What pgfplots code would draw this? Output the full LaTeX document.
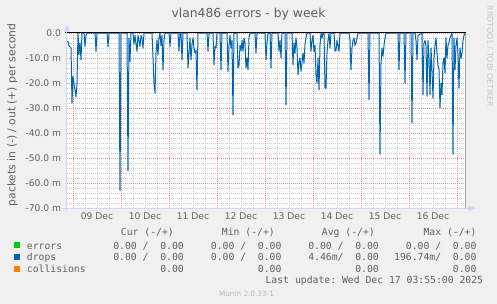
\documentclass[border=0pt]{standalone}
\usepackage{pgfplots}
\pgfplotsset{compat=1.18}
\usepackage{fontspec}
\setmainfont{DejaVu Sans}
\setmonofont{DejaVu Sans Mono}
\definecolor{bg}{HTML}{F0F0F0}
\definecolor{fontc}{HTML}{606060}
\definecolor{axisc}{HTML}{CFD6F8}
\definecolor{mgrid}{RGB}{238,150,150}
\definecolor{ngrid}{RGB}{205,205,205}
\definecolor{errc}{HTML}{00CC00}
\definecolor{dropc}{HTML}{0066B3}
\definecolor{collc}{HTML}{FF8000}
\newcommand\lgf{\ttfamily\fontsize{9.8}{11}\selectfont\color{fontc}}
\begin{document}
\begin{tikzpicture}
\path[use as bounding box, fill=bg] (0,0) rectangle (497bp,304bp);
\begin{axis}[
  at={(66.7bp,96bp)}, anchor=south west,
  scale only axis, width=399bp, height=175bp,
  xmin=-3.15, xmax=196.35, ymin=-70, ymax=0,
  axis background/.style={fill=white},
  axis line style={draw=none},
  tick style={draw=none},
  xtick={12,36,...,180},
  xticklabels={09 Dec,10 Dec,11 Dec,12 Dec,13 Dec,14 Dec,15 Dec,16 Dec},
  minor xtick={6,18,...,186},
  extra x ticks={0,24,...,192},
  extra x tick labels={},
  extra x tick style={grid=major, major x grid style={mgrid, dash pattern=on 1bp off 1bp, line width=0.8bp}},
  ytick={-70,-60,...,0},
  yticklabels={-70.0 m,-60.0 m,-50.0 m,-40.0 m,-30.0 m,-20.0 m,-10.0 m,0.0},
  minor ytick={-68,-66,-64,-62,-58,-56,-54,-52,-48,-46,-44,-42,-38,-36,-34,-32,-28,-26,-24,-22,-18,-16,-14,-12,-8,-6,-4,-2},
  grid=both,
  major x grid style={ngrid, dash pattern=on 1bp off 1bp, line width=0.8bp},
  minor x grid style={ngrid, dash pattern=on 1bp off 1bp, line width=0.8bp},
  major y grid style={mgrid, dash pattern=on 1bp off 1bp, line width=0.8bp},
  minor y grid style={ngrid, dash pattern=on 1bp off 1bp, line width=0.8bp},
  xticklabel style={font=\fontsize{9.2}{10}\selectfont, text=fontc, inner sep=0pt, anchor=north, yshift=-4.5bp},
  yticklabel style={font=\fontsize{9.2}{10}\selectfont, text=fontc, inner sep=0pt, anchor=east, xshift=-5.5bp},
]
\addplot[color=dropc, line width=1bp, line join=round] coordinates {
(-3,-3.3) (-2.5,-3.5) (-2,-5) (-1.5,-5.5) (-1,-6) (-0.5,-28) (0,-17.5) (0.5,-20) (1,-23) (1.5,-25.5) (2,-20) (2.5,0) (3,-8.5) (3.5,-4) (4,-10.7) (4.5,0) (5.5,0) (6,-5.3) (6.5,-1) (7,0) (11,0) (11.5,-7.3) (12,0) (17,0) (17.5,-5.5) (18,0) (23,0) (23.5,-63) (24,0) (27,0) (27.5,-55) (28,-2) (28.5,-11.3) (29,0) (30,0) (30.5,-4.5) (31,-1) (32,-7.3) (32.5,-1) (33,-3) (33.5,-5.3) (34,-1) (34.5,-2) (35,-6) (35.5,0)
(39.5,0) (40,-10) (40.5,-20) (41,-24) (41.5,-8) (42,-3) (42.5,-8.7) (43,-2) (43.5,0) (44,-5) (44.5,-1) (45,-14.7) (45.5,-3) (46,0) (48,0) (48.5,-5.3) (49,0) (52.5,0) (53,-7.3) (53.5,0) (54,0) (54.5,-10.7) (55,0) (57,0) (57.5,-14) (58,-8) (58.5,-2) (59,-10.7) (59.5,-4.7) (60,-2) (60.5,-6) (61,-8) (61.5,-7) (62,-22.7) (62.5,0) (67,0) (67.5,-7.3) (68,0) (70,0) (70.5,-12.7) (71,-5.3) (71.5,-6) (72,0) (73.5,0) (74,-14.7) (74.5,0) (77,0) (77.5,-15.3) (78,-5) (78.5,-1) (79,-6) (79.5,-3) (80,-32.7) (80.5,0)
(82,0) (82.5,-14) (83,-13) (83.5,-5) (84,-7) (84.5,-3) (85,-7.3) (85.5,-2) (86,-4) (86.5,-14) (87,-10) (87.5,-14.7) (88,-2) (88.5,0) (91,0) (91.5,-8) (92,0) (96,0) (96.5,-10.7) (97,-4) (97.5,0) (98.5,0) (99,-14) (99.5,0) (102.5,0) (103,-7.3) (103.5,-3) (104,-10) (104.5,0) (106,0) (106.5,-28.7) (107,0) (109.5,0) (110,-12.7) (110.5,-4) (111,-8) (111.5,-2) (112,-6) (112.5,-16.7) (113,-12) (113.5,-10) (114,-15.3) (114.5,-12) (115,-8) (115.5,-12) (116,-4.7) (116.5,-2) (117,0) (118.5,0) (119,-7.3) (119.5,-3)
(120,-1) (120.5,-7.3) (121,-5) (121.5,-16.7) (122,-20) (122.5,-10) (123,-22.7) (123.5,-5) (124,0) (124.5,-2) (125,0) (125.5,0) (126,-22) (126.5,-22) (127,-8) (127.5,-3) (128,0) (128.5,-6) (129,0) (130.5,0) (131,-7.3) (131.5,-7) (132,-3) (132.5,-5) (133,-7.3) (133.5,0) (138,0) (138.5,-3) (139,-14.7) (139.5,-6) (140,-3) (140.5,-2) (141,-5) (141.5,-4) (142,-2) (142.5,0) (147.5,0) (148,-26.7) (148.5,0) (153,0) (153.5,-48.5) (154,-12) (154.5,-6) (155,-9.3) (155.5,-5) (156,-2) (156.5,0)
(162.5,0) (163,-14.7) (163.5,0) (165.5,0) (166,-20) (166.5,0) (169,0) (169.5,-36) (170,0) (171,0) (171.5,-3) (172,-10.7) (172.5,-1) (174.5,0) (175,-24.7) (175.5,-4) (176,-3) (176.5,-5) (177,-25.3) (177.5,-3) (178,-10) (178.5,-24.7) (179,-6) (179.5,-15) (180,-26) (180.5,-10) (181,-5) (181.5,-2) (182,-8) (182.5,-13) (183,-14.7) (183.5,-30) (184,-20) (184.5,-24.7) (185,-12) (185.5,-10) (186,-16) (186.5,-2) (187,-10) (187.5,-5) (188,-4) (188.5,-2) (189,-1) (189.5,0) (190,-48.5) (190.5,-2) (191,-14.7) (191.5,-5) (192,-2) (192.5,-8) (193,-22) (193.5,-6) (194,-10) (194.5,-8) (195,-3) (195.5,-1) (196,0)
};
\end{axis}
% axes
\draw[black, line width=1bp] (65bp,271bp) -- (465.5bp,271bp);
\draw[axisc, line width=1bp] (66.7bp,93bp) -- (66.7bp,273bp);
\fill[axisc] (66.9bp,279.5bp) -- (64bp,272.3bp) -- (69.8bp,272.3bp) -- cycle;
\draw[axisc, line width=1bp] (62bp,95.7bp) -- (469bp,95.7bp);
\fill[axisc] (475.5bp,95.7bp) -- (468.3bp,92.8bp) -- (468.3bp,98.6bp) -- cycle;
\draw[gray!75, line width=1bp] (465.5bp,96.2bp) -- (465.5bp,271bp);
% titles
\node[anchor=base, inner sep=0, text=fontc, font=\fontsize{12.4}{14}\selectfont] at (248.5bp,286bp) {vlan486 errors - by week};
\node[rotate=90, inner sep=0, text=fontc, font=\fontsize{10.8}{12}\selectfont] at (12.5bp,189bp) {packets in (-) / out (+) per second};
\node[rotate=-90, inner sep=0, text=gray!45, font=\fontsize{7.9}{9}\selectfont] at (490bp,247.5bp) {RRDTOOL / TOBI OETIKER};
% legend
\fill[errc] (14.3bp,55.7bp) rectangle (20.3bp,61.5bp);
\fill[dropc] (14.3bp,44bp) rectangle (20.3bp,49.8bp);
\fill[collc] (14.3bp,32.3bp) rectangle (20.3bp,38.1bp);
\node[anchor=base west, inner sep=0, font=\lgf] at (26.7bp,54.7bp) {errors};
\node[anchor=base west, inner sep=0, font=\lgf] at (26.7bp,43.5bp) {drops};
\node[anchor=base west, inner sep=0, font=\lgf] at (26.7bp,31.7bp) {collisions};
% headers
\node[anchor=base east, inner sep=0, font=\lgf] at (174bp,68bp) {Cur (-/+)};
\node[anchor=base east, inner sep=0, font=\lgf] at (275bp,68bp) {Min (-/+)};
\node[anchor=base east, inner sep=0, font=\lgf] at (375bp,68bp) {Avg (-/+)};
\node[anchor=base east, inner sep=0, font=\lgf] at (476.7bp,68bp) {Max (-/+)};
% rows
\node[anchor=base east, inner sep=0, font=\lgf] at (184bp,54.7bp) {0.00 /\ \ 0.00};
\node[anchor=base east, inner sep=0, font=\lgf] at (281.7bp,54.7bp) {0.00 /\ \ 0.00};
\node[anchor=base east, inner sep=0, font=\lgf] at (379bp,54.7bp) {0.00 /\ \ 0.00};
\node[anchor=base east, inner sep=0, font=\lgf] at (476.7bp,54.7bp) {0.00 /\ \ 0.00};
\node[anchor=base east, inner sep=0, font=\lgf] at (184bp,43.5bp) {0.00 /\ \ 0.00};
\node[anchor=base east, inner sep=0, font=\lgf] at (281.7bp,43.5bp) {0.00 /\ \ 0.00};
\node[anchor=base east, inner sep=0, font=\lgf] at (379bp,43.5bp) {4.46m/\ \ 0.00};
\node[anchor=base east, inner sep=0, font=\lgf] at (476.7bp,43.5bp) {196.74m/\ \ 0.00};
\node[anchor=base east, inner sep=0, font=\lgf] at (184bp,31.7bp) {0.00};
\node[anchor=base east, inner sep=0, font=\lgf] at (281.7bp,31.7bp) {0.00};
\node[anchor=base east, inner sep=0, font=\lgf] at (379bp,31.7bp) {0.00};
\node[anchor=base east, inner sep=0, font=\lgf] at (476.7bp,31.7bp) {0.00};
\node[anchor=base east, inner sep=0, font=\lgf] at (483.3bp,20.2bp) {Last update: Wed Dec 17 03:55:00 2025};
\node[anchor=base, inner sep=0, text=gray!55, font=\fontsize{7.3}{8}\selectfont] at (246.5bp,7.5bp) {Munin 2.0.33-1};
\end{tikzpicture}
\end{document}
